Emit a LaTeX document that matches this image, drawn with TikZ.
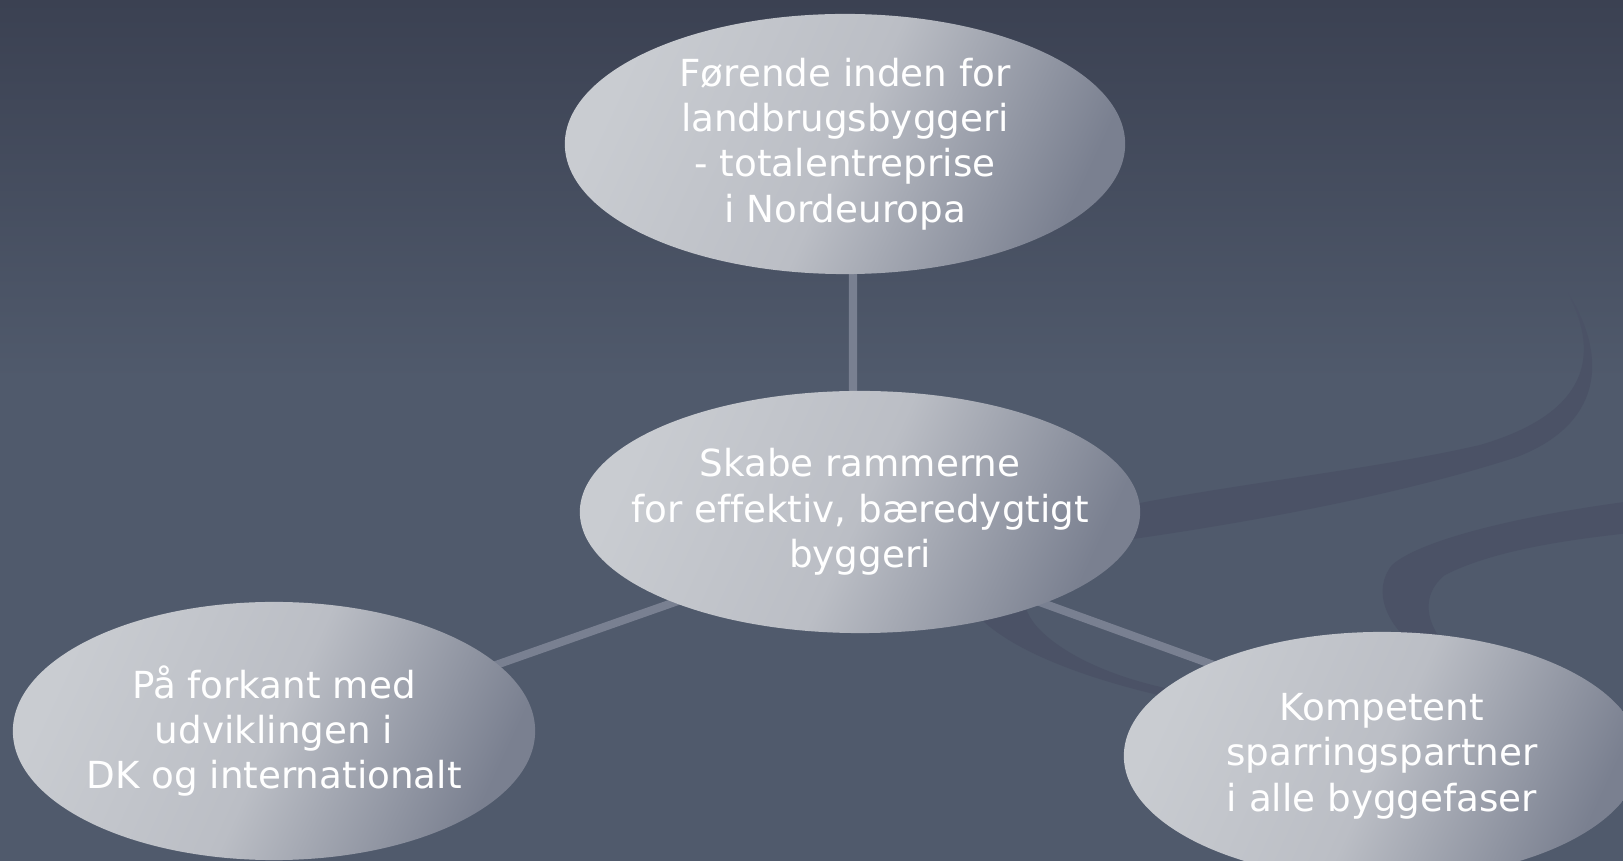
\documentclass[tikz,border=0pt]{standalone}
\usepackage{fontspec}
\setmainfont{DejaVu Sans}[Ligatures={NoCommon}]
\usetikzlibrary{shapes.geometric}
\definecolor{bgtop}{HTML}{3B4152}
\definecolor{bgmid}{HTML}{505A6C}
\definecolor{swoosh}{HTML}{4B5266}
\definecolor{elllight}{HTML}{C9CCD1}
\definecolor{ellmid}{HTML}{BBBEC5}
\definecolor{elldark}{HTML}{7A8090}
\definecolor{linkgray}{HTML}{798091}
\pgfdeclarelayer{deep}
\pgfdeclarelayer{back}
\pgfsetlayers{deep,back,main}

\begin{document}
\begin{tikzpicture}[x=0.01cm,y=-0.01cm,
	bubble/.style={ellipse, inner sep=0pt, draw=none,
		top color=elllight, bottom color=elldark, middle color=ellmid,
		shading angle=65},
	bubbletext/.style={text=white, align=center,
		font=\fontsize{10.6}{12.9}\selectfont},
	link/.style={draw=linkgray, line width=2.3pt}]

\def\width{1623}
\def\height{861}

\useasboundingbox (0,0) rectangle (\width,\height);
\clip (0,0) rectangle (\width,\height);

% Background and swooshes
\begin{pgfonlayer}{deep}
\fill [bgmid] (0,0) rectangle (\width,\height);
\shade [top color=bgtop, bottom color=bgmid] (0,0) rectangle (\width,380);

\fill [swoosh] (1568,293)
	.. controls (1595,345) and (1600,410) .. (1480,445)
	.. controls (1380,468) and (1250,482) .. (1140,503)
	.. controls (1060,518) and (1000,525) .. (975,550)
	.. controls (955,575) and (960,605) .. (983,621)
	.. controls (1020,655) and (1100,685) .. (1205,705)
	-- (1205,695)
	.. controls (1130,685) and (1070,660) .. (1040,630)
	.. controls (1020,610) and (1010,575) .. (1060,552)
	.. controls (1090,546) and (1110,542) .. (1140,538)
	.. controls (1250,522) and (1400,495) .. (1517,457)
	.. controls (1600,425) and (1610,360) .. (1568,293)
	-- cycle;

\fill [swoosh] (1640,500)
	.. controls (1520,515) and (1420,540) .. (1392,565)
	.. controls (1372,590) and (1385,625) .. (1420,650)
	-- (1450,650)
	.. controls (1425,625) and (1420,595) .. (1445,575)
	.. controls (1490,552) and (1560,540) .. (1640,532)
	-- cycle;
\end{pgfonlayer}

% Ellipses
\node [bubble, minimum width=5.6cm, minimum height=2.6cm] (top) at (845,144) {};
\node [bubble, minimum width=5.6cm, minimum height=2.42cm] (mid) at (860,512) {};
\node [bubble, minimum width=5.22cm, minimum height=2.58cm] (left) at (274,731) {};
\node [bubble, minimum width=5.16cm, minimum height=2.48cm] (right) at (1382,756) {};

% Texts
\node [bubbletext] (top-t) at (top) {Førende inden for\\landbrugsbyggeri\\- totalentreprise\\i Nordeuropa};
\node [bubbletext] (mid-t) at (mid) {Skabe rammerne\\for effektiv, bæredygtigt\\byggeri};
\node [bubbletext] (left-t) at (left) {På forkant med\\udviklingen i\\DK og internationalt};
\node [bubbletext] (right-t) at (right) {Kompetent\\sparringspartner\\i alle byggefaser};

% Connectors
\begin{pgfonlayer}{back}
\draw [link] ([xshift=0.08cm]top.center) -- ([xshift=-0.07cm]mid.center);
\draw [link] ([yshift=-0.25cm]mid.center) -- ([yshift=-0.12cm]left.center);
\draw [link] ([yshift=-0.25cm]mid.center) -- ([yshift=0.3cm]right.center);
\end{pgfonlayer}

\end{tikzpicture}
\end{document}
